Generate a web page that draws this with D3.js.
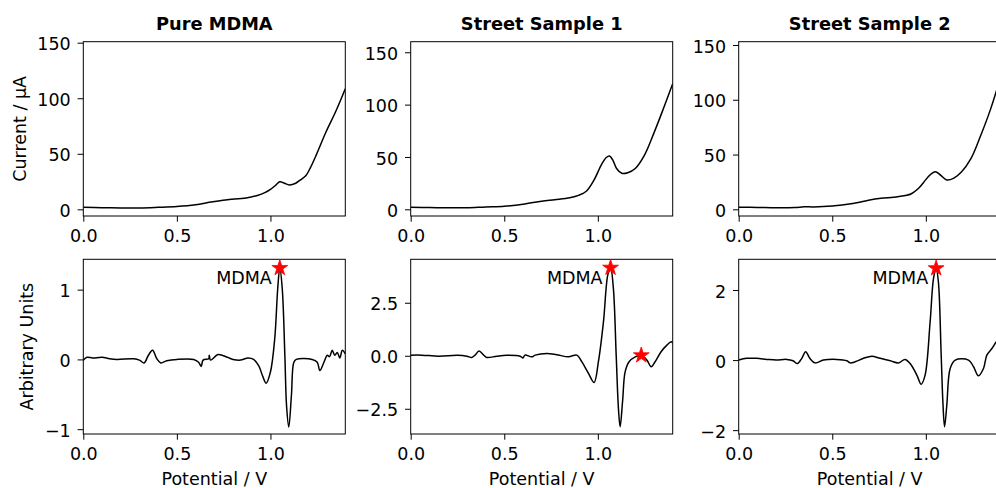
<!DOCTYPE html>
<html>
<head>
<meta charset="utf-8">
<script src="https://cdn.jsdelivr.net/npm/d3@7"></script>
<style>
  body { margin: 0; background: #fff; }
  svg { display: block; }
  text { font-family: "DejaVu Sans", sans-serif; fill: #000; }
</style>
</head>
<body>
<svg id="chart" width="996" height="488"></svg>
<script>
// ---- Linear sweep voltammograms (current, µA) ----
const pureV = [0, 0.1, 0.2, 0.3, 0.4, 0.5, 0.6, 0.68, 0.76, 0.87, 0.93, 0.97, 1.0, 1.03, 1.05, 1.075, 1.1, 1.135, 1.16, 1.19, 1.215, 1.245, 1.295, 1.35, 1.4];
const pureI = [1.8, 1.5, 1.2, 1.2, 1.8, 2.6, 4.2, 6.5, 8.5, 10.2, 12.5, 15, 18, 22, 24.8, 23.5, 22.0, 23.5, 26.5, 30.5, 38, 49, 69, 88.5, 108.5];

const street1V = [0, 0.1, 0.2, 0.3, 0.4, 0.5, 0.6, 0.7, 0.77, 0.85, 0.9, 0.94, 0.98, 1.02, 1.045, 1.062, 1.08, 1.1, 1.128, 1.16, 1.2, 1.25, 1.3, 1.35, 1.4];
const street1I = [1.9, 1.7, 1.4, 1.5, 2.3, 3, 4.8, 7.8, 9.2, 11, 13.5, 17.5, 28, 43, 49.5, 51, 47, 39, 34.4, 35, 39, 52, 73, 96, 120];

const street2V = [0, 0.1, 0.2, 0.3, 0.35, 0.4, 0.5, 0.6, 0.7, 0.76, 0.85, 0.92, 0.96, 0.99, 1.02, 1.05, 1.08, 1.112, 1.15, 1.19, 1.24, 1.29, 1.345, 1.4];
const street2I = [1.9, 1.7, 1.4, 1.6, 2.3, 2.2, 3, 5, 8.5, 10, 11.5, 14, 19, 25, 31, 34.4, 31, 26.8, 28.5, 34, 46, 66, 91, 121];

// ---- Processed signals (arbitrary units) ----
const pureDV = [0, 0.02, 0.05, 0.1, 0.14, 0.18, 0.27, 0.3, 0.325, 0.348, 0.37, 0.393, 0.414, 0.446, 0.5, 0.59, 0.616, 0.63, 0.64, 0.67, 0.673, 0.68, 0.72, 0.77, 0.8, 0.84, 0.88, 0.91, 0.937, 0.96, 0.977, 1.0, 1.023, 1.039, 1.05, 1.063, 1.077, 1.086, 1.098, 1.112, 1.125, 1.138, 1.223, 1.25, 1.264, 1.286, 1.304, 1.316, 1.33, 1.344, 1.357, 1.371, 1.384, 1.4];
const pureDA = [-0.01, 0.03, 0.02, 0.03, 0.01, 0, 0.01, -0.01, -0.05, 0.06, 0.13, 0.01, -0.05, -0.02, 0, 0, -0.04, -0.1, -0.01, 0.01, 0.06, -0.01, 0.07, 0.03, 0, -0.01, 0.02, 0.0, -0.09, -0.25, -0.34, -0.18, 0.3, 1.02, 1.31, 1.02, 0.06, -0.66, -0.97, -0.52, -0.04, 0, 0, -0.04, -0.16, -0.04, 0.06, 0.04, 0.13, 0.06, 0.1, 0.02, 0.13, 0.08];

const street1DV = [0, 0.06, 0.15, 0.25, 0.3, 0.326, 0.344, 0.365, 0.39, 0.406, 0.46, 0.513, 0.585, 0.6, 0.61, 0.647, 0.665, 0.727, 0.78, 0.843, 0.888, 0.914, 0.95, 0.98, 1.003, 1.03, 1.053, 1.068, 1.083, 1.098, 1.11, 1.119, 1.132, 1.146, 1.167, 1.2, 1.232, 1.262, 1.285, 1.306, 1.338, 1.369, 1.392, 1.4];
const street1DA = [0.03, 0.03, -0.02, 0.02, -0.02, -0.08, 0.03, 0.22, 0.03, -0.08, -0.02, 0.02, -0.02, -0.1, 0.03, -0.05, 0.03, 0.11, 0.05, -0.05, 0.03, -0.28, -0.83, -1.26, -0.28, 1.6, 3.8, 4.15, 3.18, 0.03, -2.48, -3.35, -2.17, -0.75, -0.28, -0.05, 0.02, -0.2, -0.52, -0.28, 0.19, 0.5, 0.66, 0.6];

const street2DV = [0, 0.043, 0.096, 0.15, 0.2, 0.257, 0.29, 0.314, 0.337, 0.358, 0.38, 0.408, 0.453, 0.524, 0.578, 0.595, 0.622, 0.667, 0.711, 0.756, 0.81, 0.854, 0.889, 0.916, 0.952, 0.975, 0.996, 1.023, 1.041, 1.055, 1.067, 1.082, 1.091, 1.1, 1.112, 1.13, 1.157, 1.228, 1.255, 1.281, 1.308, 1.326, 1.353, 1.376, 1.4];
const street2DA = [0, 0.05, 0.05, 0.02, 0, 0.02, -0.02, -0.1, 0.05, 0.24, 0.05, -0.08, 0, 0.02, -0.02, -0.08, -0.05, 0.05, 0.11, 0.05, -0.02, -0.08, 0.02, -0.1, -0.43, -0.69, -0.43, 1.1, 2.33, 2.62, 2.24, 0.14, -1.19, -1.9, -1.29, -0.24, 0, 0, -0.19, -0.45, -0.24, 0.14, 0.33, 0.52, 0.65];

// ---- Peak markers (potentials of identified peaks) ----
const pureStars = [1.05];
const street1Stars = [1.068, 1.232];
const street2Stars = [1.055];
const peakLabel = "MDMA";

// ---- Titles, axis limits and ticks ----
const titles = ["Pure MDMA", "Street Sample 1", "Street Sample 2"];
const xLimits = [0, 1.4];
const xTicks = [0, 0.5, 1.0];
const xTickLabels = ["0.0", "0.5", "1.0"];
const currentLimits = [[-6.0, 150.9], [-6.4, 160.1], [-6.1, 153.0]];
const currentTicks = [0, 50, 100, 150];
const currentTickLabels = ["0", "50", "100", "150"];
const signalLimits = [[-1.069, 1.435], [-3.69, 4.55], [-2.11, 2.877]];
const signalTicks = [[-1, 0, 1], [-2.5, 0, 2.5], [-2, 0, 2]];
const signalTickLabels = [["\u22121", "0", "1"], ["\u22122.5", "0.0", "2.5"], ["\u22122", "0", "2"]];

// ---- Layout ----
const colLeft = [83.3, 410.7, 738.7];
const axW = 262;
const rowTop = [41.7, 259.3];
const axH = [174.3, 174.7];
const fontSize = 17.5;
const tickLen = 5.7;

const svg = d3.select("#chart");

const topSeries = [[pureV, pureI], [street1V, street1I], [street2V, street2I]];
const botSeries = [[pureDV, pureDA], [street1DV, street1DA], [street2DV, street2DA]];
const starSets = [pureStars, street1Stars, street2Stars];

function drawPanel(id, col, row, vs, ys, yLim, yTicks, yTickLabels) {
  const x0 = colLeft[col], y0 = rowTop[row], h = axH[row];
  const g = svg.append("g").attr("transform", `translate(${x0},${y0})`);
  const x = d3.scaleLinear().domain(xLimits).range([0, axW]);
  const y = d3.scaleLinear().domain(yLim).range([h, 0]);

  svg.append("clipPath").attr("id", id)
    .append("rect").attr("x", 0).attr("y", 0).attr("width", axW).attr("height", h);

  const pts = vs.map((v, i) => [v, ys[i]]);
  const line = d3.line().x(d => x(d[0])).y(d => y(d[1])).curve(d3.curveCatmullRom.alpha(0.5));
  g.append("path").datum(pts)
    .attr("clip-path", `url(#${id})`)
    .attr("fill", "none").attr("stroke", "#000").attr("stroke-width", 1.5)
    .attr("stroke-linejoin", "round")
    .attr("d", line);

  // y axis
  const ya = g.append("g").call(
    d3.axisLeft(y).tickValues(yTicks).tickFormat((d, i) => yTickLabels[i])
      .tickSize(tickLen).tickSizeOuter(0).tickPadding(6.9));
  ya.select(".domain").remove();
  ya.selectAll("line").attr("stroke", "#000").attr("stroke-width", 1);
  ya.selectAll("text").attr("font-size", fontSize).attr("dy", "0.41em")
    .style("font-family", "'DejaVu Sans', sans-serif").attr("fill", "#000");

  // x axis
  const xa = g.append("g").attr("transform", `translate(0,${h})`).call(
    d3.axisBottom(x).tickValues(xTicks).tickFormat((d, i) => xTickLabels[i])
      .tickSize(tickLen).tickSizeOuter(0).tickPadding(8.3));
  xa.select(".domain").remove();
  xa.selectAll("line").attr("stroke", "#000").attr("stroke-width", 1);
  xa.selectAll("text").attr("font-size", fontSize)
    .style("font-family", "'DejaVu Sans', sans-serif").attr("fill", "#000");

  // frame
  g.append("rect").attr("x", 0).attr("y", 0).attr("width", axW).attr("height", h)
    .attr("fill", "none").attr("stroke", "#000").attr("stroke-width", 1);

  return { g, x, y, pts };
}

for (let c = 0; c < 3; c++) {
  drawPanel("clipTop" + c, c, 0, topSeries[c][0], topSeries[c][1],
    currentLimits[c], currentTicks, currentTickLabels);
  svg.append("text")
    .attr("x", colLeft[c] + axW / 2).attr("y", 30)
    .attr("text-anchor", "middle").attr("font-size", 17.8).attr("font-weight", "bold")
    .text(titles[c]);

  const bot = drawPanel("clipBot" + c, c, 1, botSeries[c][0], botSeries[c][1],
    signalLimits[c], signalTicks[c], signalTickLabels[c]);

  // peak markers, placed on the signal values at the listed potentials
  const [dv, da] = botSeries[c];
  starSets[c].forEach((pv, k) => {
    const idx = d3.minIndex(dv, v => Math.abs(v - pv));
    const sx = bot.x(dv[idx]), sy = bot.y(da[idx]);
    bot.g.append("path")
      .attr("d", d3.symbol(d3.symbolStar, 78)())
      .attr("transform", `translate(${sx},${sy})`)
      .attr("fill", "#ff0000").attr("stroke", "#ff0000").attr("stroke-width", 0.8);
    if (k === 0) {
      bot.g.append("text")
        .attr("x", sx - 8).attr("y", sy + 16)
        .attr("text-anchor", "end").attr("font-size", fontSize)
        .text(peakLabel);
    }
  });

  svg.append("text")
    .attr("x", colLeft[c] + axW / 2).attr("y", 484.5)
    .attr("text-anchor", "middle").attr("font-size", fontSize)
    .text("Potential / V");
}

svg.append("text")
  .attr("transform", `translate(26,${rowTop[0] + axH[0] / 2}) rotate(-90)`)
  .attr("text-anchor", "middle").attr("font-size", fontSize)
  .text("Current / \u00b5A");

svg.append("text")
  .attr("transform", `translate(33,${rowTop[1] + axH[1] / 2}) rotate(-90)`)
  .attr("text-anchor", "middle").attr("font-size", fontSize)
  .text("Arbitrary Units");
</script>
</body>
</html>
